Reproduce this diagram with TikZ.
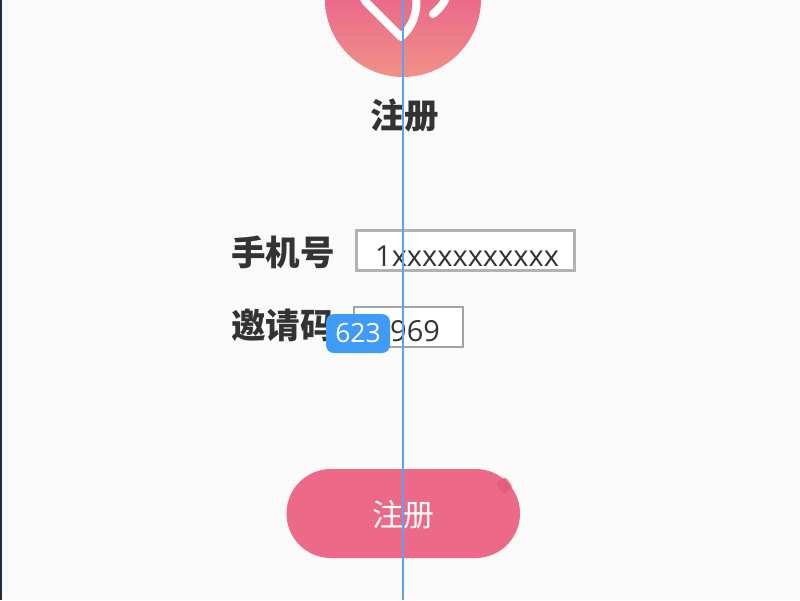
\documentclass[tikz,border=0pt]{standalone}
\usepackage{fontspec}
\setmainfont{Open Sans}
\newfontfamily\cjk{Noto Sans CJK SC}
\usetikzlibrary{calc}
\definecolor{pagebg}{HTML}{FAFAFA}
\definecolor{ink}{HTML}{333333}
\definecolor{rosetop}{HTML}{EB6A8A}
\definecolor{rosebot}{HTML}{F09188}
\definecolor{btnrose}{HTML}{EC6987}
\definecolor{dotrose}{HTML}{E45A78}
\definecolor{badgeblue}{HTML}{3F9BF6}
\definecolor{guideblue}{HTML}{5BA3EE}
\definecolor{edge}{HTML}{1F2D3D}
\tikzset{
  heading/.style={text=ink,font=\cjk\bfseries\fontsize{34.5}{38}\selectfont,inner sep=0pt},
  fieldtext/.style={text=ink,font=\fontsize{29}{33}\selectfont,inner sep=0pt,anchor=base west},
  field/.style={draw=#1,fill=white},
  heartline/.style={draw=white,line width=8pt,line cap=round,line join=round},
}
\begin{document}
\begin{tikzpicture}[x=1pt,y=-1pt]
\useasboundingbox (0,0) rectangle (800,600);
\clip (0,0) rectangle (800,600);
\fill[pagebg] (0,0) rectangle (800,600);
\fill[edge] (0,0) rectangle (2,600);
% logo
\begin{scope}
  \clip (403,-1) circle[radius=78];
  \shade[top color=rosetop,bottom color=rosebot] (325,0) rectangle (481,77);
\end{scope}
\draw[heartline] (362,-5) -- (366,2) -- (401,37) .. controls (412,27) and (418,14) .. (416,-5);
\draw[heartline] (433,14) .. controls (439,9) and (444,4) .. (447,-5);
% title
\node[heading] (title) at (404.5,115) {注册};
% form
\node[heading,anchor=west] (phonelabel) at (231,252) {手机号};
\node[heading,anchor=west] (codelabel) at (231,325) {邀请码};
\draw[field=black!30,line width=3pt] (356.5,230.5) rectangle (574.5,270.5);
\node[fieldtext] (phoneval) at (375,266) {1xxxxxxxxxxx};
\draw[field=black!36,line width=2pt] (354,307) rectangle (463,347);
\node[fieldtext] (codeval) at (390,341) {969};
\fill[badgeblue,rounded corners=8pt] (326,314) rectangle (390,353);
\node[text=white,font=\fontsize{26.5}{30}\selectfont,inner sep=0pt] (badge) at (358,333.5) {623};
% button
\fill[btnrose,rounded corners=44.5pt] (286.5,469) rectangle (520,558);
\fill[dotrose,opacity=.8,rounded corners=3pt,rotate around={35:(504,485)}] (498,479) rectangle (510,492);
\node[text=white,font=\cjk\fontsize{31}{35}\selectfont,inner sep=0pt] (btn) at (403,515) {注册};
% guide
\coordinate (guidetop) at (403,0);
\coordinate (guidebot) at (403,600);
\draw[guideblue,line width=2pt] (guidetop) -- (guidebot);
\end{tikzpicture}
\end{document}
